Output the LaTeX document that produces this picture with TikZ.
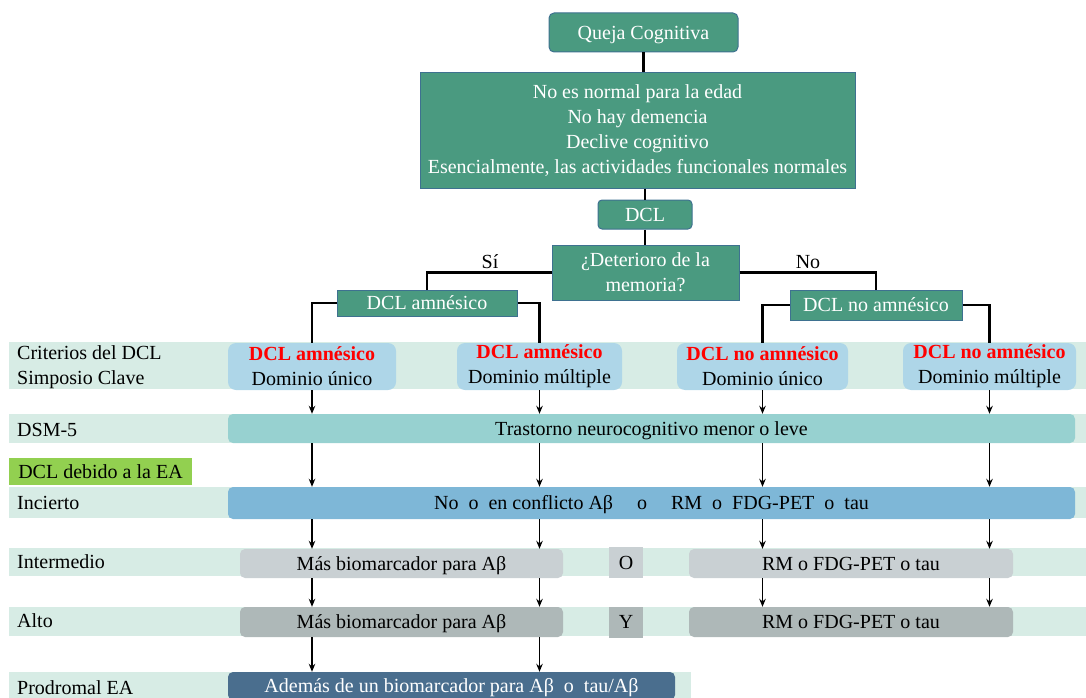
\documentclass[tikz,border=0pt]{standalone}
\usepackage{fontspec}
\setmainfont{Liberation Serif}
\usetikzlibrary{arrows.meta}
\definecolor{tealbox}{HTML}{4A9A80}
\definecolor{tealedge}{HTML}{3E7190}
\definecolor{bandgreen}{HTML}{D7ECE5}
\definecolor{critblue}{HTML}{AED6E8}
\definecolor{dsmteal}{HTML}{97D1D0}
\definecolor{incblue}{HTML}{7EB7D7}
\definecolor{lgray}{HTML}{C9D0D3}
\definecolor{dgray}{HTML}{AEB8B8}
\definecolor{prodblue}{HTML}{4A6E8E}
\definecolor{labgreen}{HTML}{92D050}
\tikzset{
  txt/.style={font=\fontsize{20}{25}\selectfont, inner sep=0pt},
  oneline/.style={text height=13.5pt, text depth=0pt},
  tealnode/.style={txt, fill=tealbox, draw=tealedge, line width=1pt, text=white, align=center},
  critnode/.style={txt, fill=critblue, rounded corners=8pt, align=center, minimum height=47, inner sep=0pt},
  rowbox/.style={txt, oneline, rounded corners=5pt, align=center},
  band/.style={fill=bandgreen, draw=none},
  conn/.style={line width=2.4pt, black},
  arr/.style={line width=1.8pt, black, -{Stealth[length=8pt,width=6.5pt]}},
  lbl/.style={txt, anchor=west, align=left}
}
\newcommand{\redb}[1]{{\bfseries\color{red}#1}}
\begin{document}
\begin{tikzpicture}[x=1pt,y=-1pt]
\useasboundingbox (0,0) rectangle (1086,698);
% background bands
\fill[band] (9,342) rectangle (1086,389);
\fill[band] (9,414) rectangle (1086,443);
\fill[band] (9,487) rectangle (1086,518);
\fill[band] (9,548) rectangle (1086,576);
\fill[band] (9,607) rectangle (1086,636);
\fill[band] (9,672) rectangle (691,698);
% top flow
\node[tealnode, oneline, rounded corners=5pt, minimum width=189, minimum height=39] (queja) at (643.5,32.5) {Queja Cognitiva};
\node[tealnode, minimum width=435, minimum height=115] (main) at (637.5,130.5) {No es normal para la edad\\No hay demencia\\Declive cognitivo\\Esencialmente, las actividades funcionales normales};
\node[tealnode, oneline, rounded corners=4pt, minimum width=94, minimum height=29] (dcl) at (645,214.5) {DCL};
\node[tealnode, minimum width=187, minimum height=55] (det) at (645.5,272.5) {¿Deterioro de la\\memoria?};
\node[tealnode, oneline, minimum width=180, minimum height=26] (amn) at (427,303) {DCL amnésico};
\node[tealnode, oneline, minimum width=172, minimum height=30] (noamn) at (876,305) {DCL no amnésico};
\node[txt] (si) at (490,262) {Sí};
\node[txt] (no) at (808,262) {No};
\draw[conn] (queja.south) -- (queja.south |- main.north);
\draw[conn] (dcl.north |- main.south) -- (dcl.north);
\draw[conn] (dcl.south) -- (det.north -| dcl.south);
\draw[conn] (det.west) -| (amn.north);
\draw[conn] (det.east) -| (noamn.north);
% criteria boxes
\node[critnode, minimum width=168] (crit1) at (312,366.5) {\redb{DCL amnésico}\\Dominio único};
\node[critnode, minimum width=165] (crit2) at (539.5,366.5) {\redb{DCL amnésico}\\Dominio múltiple};
\node[critnode, minimum width=171] (crit3) at (762.5,366.5) {\redb{DCL no amnésico}\\Dominio único};
\node[critnode, minimum width=173] (crit4) at (989.5,366.5) {\redb{DCL no amnésico}\\Dominio múltiple};
\draw[conn] (amn.west) -| (crit1.north);
\draw[conn] (amn.east) -| (crit2.north);
\draw[conn] (noamn.west) -| (crit3.north);
\draw[conn] (noamn.east) -| (crit4.north);
% row boxes
\node[rowbox, fill=dsmteal, minimum width=847, minimum height=29] (dsm) at (651.5,428.5) {Trastorno neurocognitivo menor o leve};
\node[txt, oneline, fill=labgreen, minimum width=183, minimum height=27] (ea) at (100.5,471.5) {DCL debido a la EA};
\node[rowbox, fill=incblue, minimum width=847, minimum height=32] (inc) at (651.5,503) {No\hspace{0.5em}o\hspace{0.5em}en conflicto Aβ\hspace{1.2em}o\hspace{1.2em}RM\hspace{0.5em}o\hspace{0.5em}FDG-PET\hspace{0.5em}o\hspace{0.5em}tau};
\node[rowbox, fill=lgray, minimum width=323, minimum height=29] (int1) at (401.5,563.5) {Más biomarcador para Aβ};
\node[txt, oneline, fill=lgray, minimum width=34, minimum height=31] (obox) at (626,562.5) {O};
\node[rowbox, fill=lgray, minimum width=324, minimum height=29] (int2) at (851,563.5) {RM o FDG-PET o tau};
\node[rowbox, fill=dgray, minimum width=323, minimum height=30] (alto1) at (401.5,622) {Más biomarcador para Aβ};
\node[txt, oneline, fill=dgray, minimum width=34, minimum height=31] (ybox) at (626,622) {Y};
\node[rowbox, fill=dgray, minimum width=324, minimum height=30] (alto2) at (851,622) {RM o FDG-PET o tau};
\node[rowbox, fill=prodblue, text=white, minimum width=447, minimum height=28] (prod) at (451.5,686) {Además de un biomarcador para Aβ\hspace{0.5em}o\hspace{0.5em}tau/Aβ};
% left labels
\node[lbl] (l1) at (17,367) {Criterios del DCL\\Simposio Clave};
\node[lbl, oneline] (l2) at (17,430) {DSM-5};
\node[lbl, oneline] (l3) at (17,503) {Incierto};
\node[lbl, oneline] (l4) at (17,562) {Intermedio};
\node[lbl, oneline] (l5) at (17,621) {Alto};
\node[lbl, oneline] (l6) at (17,688) {Prodromal EA};
% arrows
\foreach \c in {crit1,crit2,crit3,crit4}{
  \draw[arr] (\c.south) -- (\c.south |- dsm.north);
  \draw[arr] (\c.south |- dsm.south) -- (\c.south |- inc.north);
  \draw[arr] (\c.south |- inc.south) -- (\c.south |- int1.north);
  \draw[arr] (\c.south |- int1.south) -- (\c.south |- alto1.north);
}
\foreach \c in {crit1,crit2}{
  \draw[arr] (\c.south |- alto1.south) -- (\c.south |- prod.north);
}
\end{tikzpicture}
\end{document}
